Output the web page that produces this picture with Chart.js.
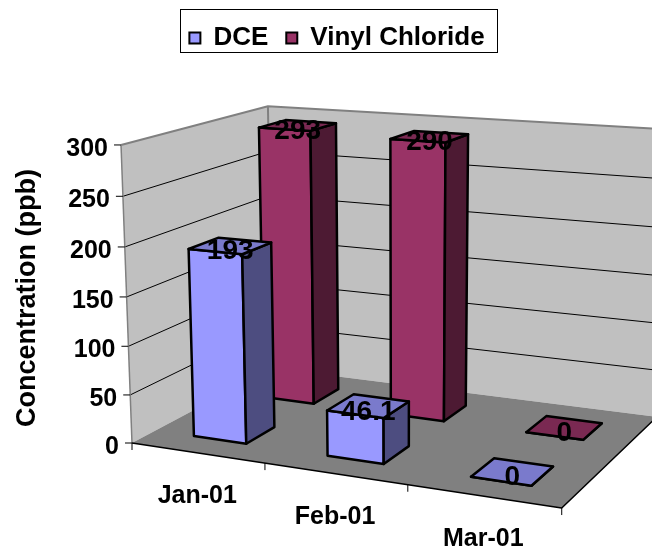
<!DOCTYPE html>
<html>
<head>
<meta charset="utf-8">
<script src="https://cdn.jsdelivr.net/npm/chart.js@4.4.0/dist/chart.umd.min.js"></script>
<style>
  body { margin: 0; background: #fff; }
</style>
</head>
<body>
<canvas id="myChart" width="652" height="550"></canvas>
<script>
const months = ['Jan-01', 'Feb-01', 'Mar-01'];
const dce = [193, 46.1, 0];
const vinylChloride = [293, 290, 0];
const yTicks = [0, 50, 100, 150, 200, 250, 300];

const FONT = "'Liberation Sans', Arial, sans-serif";

// perspective camera fitted to the picture; the plot box is 0..1 in x (months), y (value), z (series depth)
function project(x, y, z) {
  const w = 1 - 0.104 * x - 0.039 * y + 0.1434 * z;
  return {
    x: (132 + 371.3 * x - 15.7 * y + 179.6 * z) / w,
    y: (443 + 12.2 * x - 303.7 * y - 22 * z) / w
  };
}

function path(ctx, pts, close) {
  ctx.beginPath();
  pts.forEach((p, k) => {
    const q = project(p[0], p[1], p[2]);
    if (k) ctx.lineTo(q.x, q.y); else ctx.moveTo(q.x, q.y);
  });
  if (close) ctx.closePath();
}

function face(ctx, pts, fill, stroke) {
  path(ctx, pts, true);
  ctx.fillStyle = fill;
  ctx.fill();
  if (stroke) {
    ctx.lineWidth = 2.5;
    ctx.strokeStyle = stroke;
    ctx.stroke();
  }
}

function edge(ctx, pts, color, width) {
  path(ctx, pts, false);
  ctx.lineWidth = width;
  ctx.strokeStyle = color;
  ctx.stroke();
}

const box3d = {
  id: 'box3d',
  beforeDatasetsDraw(chart) {
    const ctx = chart.ctx;
    const xs = chart.scales.x, ys = chart.scales.y;
    const nx = px => (px - xs.left) / xs.width;
    const ny = py => (ys.bottom - py) / (ys.bottom - ys.top);
    const nCat = chart.data.labels.length;
    const nSer = chart.data.datasets.length;

    ctx.save();
    ctx.lineJoin = 'round';

    // walls and floor
    face(ctx, [[0, 0, 0], [0, 1, 0], [0, 1, 1], [0, 0, 1]], '#c0c0c0');
    face(ctx, [[0, 0, 1], [0, 1, 1], [1, 1, 1], [1, 0, 1]], '#c0c0c0');
    face(ctx, [[0, 0, 0], [1, 0, 0], [1, 0, 1], [0, 0, 1]], '#808080');

    // gridlines
    ys.ticks.forEach(t => {
      const v = ny(ys.getPixelForValue(t.value));
      if (v > 0.001 && v < 0.999) edge(ctx, [[0, v, 0], [0, v, 1], [1, v, 1]], '#000', 1);
    });

    // wall outlines
    edge(ctx, [[0, 0, 0], [0, 1, 0]], '#808080', 1.5);
    edge(ctx, [[0, 1, 0], [0, 1, 1], [1, 1, 1]], '#808080', 2);
    edge(ctx, [[0, 0, 1], [0, 1, 1]], '#808080', 2);
    edge(ctx, [[0, 0, 0], [1, 0, 0], [1, 0, 1]], '#000', 1.5);

    // value axis ticks and labels
    ctx.font = 'bold 25px ' + FONT;
    ctx.fillStyle = '#000';
    ctx.textAlign = 'right';
    ctx.textBaseline = 'middle';
    ys.ticks.forEach(t => {
      const p = project(0, ny(ys.getPixelForValue(t.value)), 0);
      ctx.beginPath();
      ctx.moveTo(p.x - 7, p.y);
      ctx.lineTo(p.x, p.y);
      ctx.lineWidth = 1;
      ctx.strokeStyle = '#000';
      ctx.stroke();
      ctx.fillText(t.label !== undefined ? t.label : String(t.value), p.x - 13, p.y + 4);
    });

    // category ticks and labels
    for (let k = 0; k <= nCat; k++) {
      const p = project(k / nCat, 0, 0);
      ctx.beginPath();
      ctx.moveTo(p.x, p.y);
      ctx.lineTo(p.x, p.y + 7);
      ctx.stroke();
    }
    ctx.textAlign = 'center';
    chart.data.labels.forEach((lab, i) => {
      const p = project(nx(xs.getPixelForValue(i)), 0, 0);
      ctx.fillText(lab, p.x, p.y + 43);
    });

    // bars, back row first, left to right
    const tops = [];
    for (let s = nSer - 1; s >= 0; s--) {
      const ds = chart.data.datasets[s];
      const meta = chart.getDatasetMeta(s);
      const z0 = (s + 0.3) / nSer, z1 = (s + 0.7) / nSer;
      meta.data.forEach((bar, i) => {
        const x0 = nx(bar.x - bar.width / 2), x1 = nx(bar.x + bar.width / 2);
        const top = ny(bar.y), base = ny(bar.base);
        face(ctx, [[x0, base, z0], [x1, base, z0], [x1, top, z0], [x0, top, z0]], ds.backgroundColor, '#000');
        face(ctx, [[x1, base, z0], [x1, base, z1], [x1, top, z1], [x1, top, z0]], ds.sideColor, '#000');
        face(ctx, [[x0, top, z0], [x1, top, z0], [x1, top, z1], [x0, top, z1]], ds.topColor, '#000');
        tops.push({ p: project((x0 + x1) / 2, top, (z0 + z1) / 2), text: String(ds.data[i]) });
      });
    }

    // data labels
    ctx.font = 'bold 28px ' + FONT;
    ctx.fillStyle = '#000';
    ctx.textAlign = 'center';
    ctx.textBaseline = 'middle';
    tops.forEach(l => ctx.fillText(l.text, l.p.x, l.p.y + 6));

    // axis title
    ctx.save();
    ctx.translate(35, 298);
    ctx.rotate(-Math.PI / 2);
    ctx.font = 'bold 27px ' + FONT;
    ctx.textBaseline = 'alphabetic';
    ctx.fillText('Concentration (ppb)', 0, 0);
    ctx.restore();

    ctx.restore();
    return false;
  },
  afterDraw(chart) {
    const hb = chart.legend.legendHitBoxes;
    if (!hb || !hb.length) return;
    const ctx = chart.ctx;
    const last = hb[hb.length - 1];
    const left = Math.round(hb[0].left - 9) + 0.5;
    const right = Math.round(last.left + last.width + 12) + 0.5;
    ctx.save();
    ctx.lineWidth = 1;
    ctx.strokeStyle = '#000';
    ctx.strokeRect(left, 9.5, right - left, 43);
    ctx.restore();
  }
};

const data = {
  labels: months,
  datasets: [{
    label: 'DCE',
    data: dce,
    backgroundColor: '#9999ff',
    topColor: '#7a7acc',
    sideColor: '#4d4d80',
    borderColor: '#000',
    borderWidth: 2
  }, {
    label: 'Vinyl Chloride',
    data: vinylChloride,
    backgroundColor: '#993366',
    topColor: '#7a2952',
    sideColor: '#4d1a33',
    borderColor: '#000',
    borderWidth: 2
  }]
};

const config = {
  type: 'bar',
  data: data,
  options: {
    responsive: false,
    animation: false,
    events: [],
    layout: { padding: { left: 22, top: 7 } },
    datasets: {
      bar: { grouped: false, barPercentage: 0.4, categoryPercentage: 1 }
    },
    plugins: {
      legend: {
        position: 'top',
        labels: {
          color: '#000',
          font: { family: FONT, size: 26, weight: 'bold' },
          boxWidth: 11,
          boxHeight: 11,
          padding: 18
        }
      },
      tooltip: { enabled: false },
      title: { display: false }
    },
    scales: {
      x: { display: false },
      y: {
        display: false,
        min: yTicks[0],
        max: yTicks[yTicks.length - 1],
        ticks: { stepSize: yTicks[1] - yTicks[0] }
      }
    }
  },
  plugins: [box3d]
};

const ctx = document.getElementById('myChart').getContext('2d');
const myChart = new Chart(ctx, config);
</script>
</body>
</html>
